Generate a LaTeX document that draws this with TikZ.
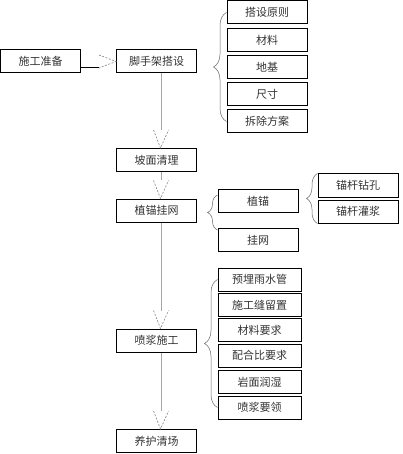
\documentclass[tikz,border=0pt]{standalone}
\usepackage{fontspec}
\setmainfont{Noto Sans CJK SC}
\usetikzlibrary{decorations.pathreplacing}
\begin{document}
\begin{tikzpicture}[x=1pt,y=-1pt]
        \tikzset{step box/.style={draw,line width=1pt,minimum width=#1,minimum height=23pt,inner sep=0pt,text=black!80,font=\fontsize{11}{11}\selectfont},
                 step box/.default=80pt,
                 flow line/.style={draw=black!35,line width=0.8pt},
                 flow head/.style={draw=black!50,dash pattern=on 2pt off 1.5pt,line width=0.6pt},
                 group brace/.style={draw=black!60,line width=0.5pt,decorate,decoration={brace,amplitude=#1}}}
        \useasboundingbox (0,0) rectangle (403,454);

        % main flow
        \node[step box] (prep) at (40.5,61.5) {施工准备};
        \node[step box] (scaf) at (156.5,61.5) {脚手架搭设};
        \node[step box] (slope) at (156.5,160) {坡面清理};
        \node[step box] (anchor) at (156.5,210.5) {植锚挂网};
        \node[step box] (spray) at (156.5,340.5) {喷浆施工};
        \node[step box] (cure) at (156.5,441) {养护清场};

        % scaffold items
        \node[step box] (rule) at (267,12.5) {搭设原则};
        \node[step box] (mat) at (267,40.5) {材料};
        \node[step box] (base) at (267,67.5) {地基};
        \node[step box] (size) at (267,94) {尺寸};
        \node[step box] (remove) at (267,121.5) {拆除方案};

        % anchor items
        \node[step box] (plant) at (258,201) {植锚};
        \node[step box] (net) at (258,240) {挂网};
        \node[step box] (drill) at (358,185.5) {锚杆钻孔};
        \node[step box] (grout) at (358,211.5) {锚杆灌浆};

        % spray items
        \node[step box=83pt] (pipe) at (259.5,279.5) {预埋雨水管};
        \node[step box=83pt] (joint) at (259.5,305) {施工缝留置};
        \node[step box=83pt] (matreq) at (259.5,330) {材料要求};
        \node[step box=83pt] (ratio) at (259.5,355.5) {配合比要求};
        \node[step box=83pt] (wet) at (259.5,382) {岩面润湿};
        \node[step box=83pt] (tips) at (259.5,407.5) {喷浆要领};

        % arrows
        \coordinate (bend) at (99,68);
        \draw[line width=1pt] (prep.east |- bend) -- (bend);
        \draw[flow head] ([yshift=13pt]bend) -- (scaf.west) -- (bend);
        \foreach \a/\b in {scaf/slope,slope/anchor,anchor/spray,spray/cure}{
                \draw[flow line] ([xshift=5pt]\a.south) -- ([xshift=5pt,yshift=18pt]\b.north);
                \draw[flow head] ([xshift=-3pt,yshift=18pt]\b.north) -- ([xshift=4pt]\b.north) -- ([xshift=12pt,yshift=18pt]\b.north);
        }

        % braces
        \draw[group brace=13pt] (rule.west |- remove.center) -- (rule.west);
        \draw[group brace=10pt] ([yshift=-2pt]net.north west) -- ([yshift=-6pt]plant.north west);
        \draw[group brace=11pt] (drill.west |- grout.south) -- (drill.north west);
        \draw[group brace=13pt] (pipe.west |- tips.center) -- (pipe.west);
\end{tikzpicture}
\end{document}
